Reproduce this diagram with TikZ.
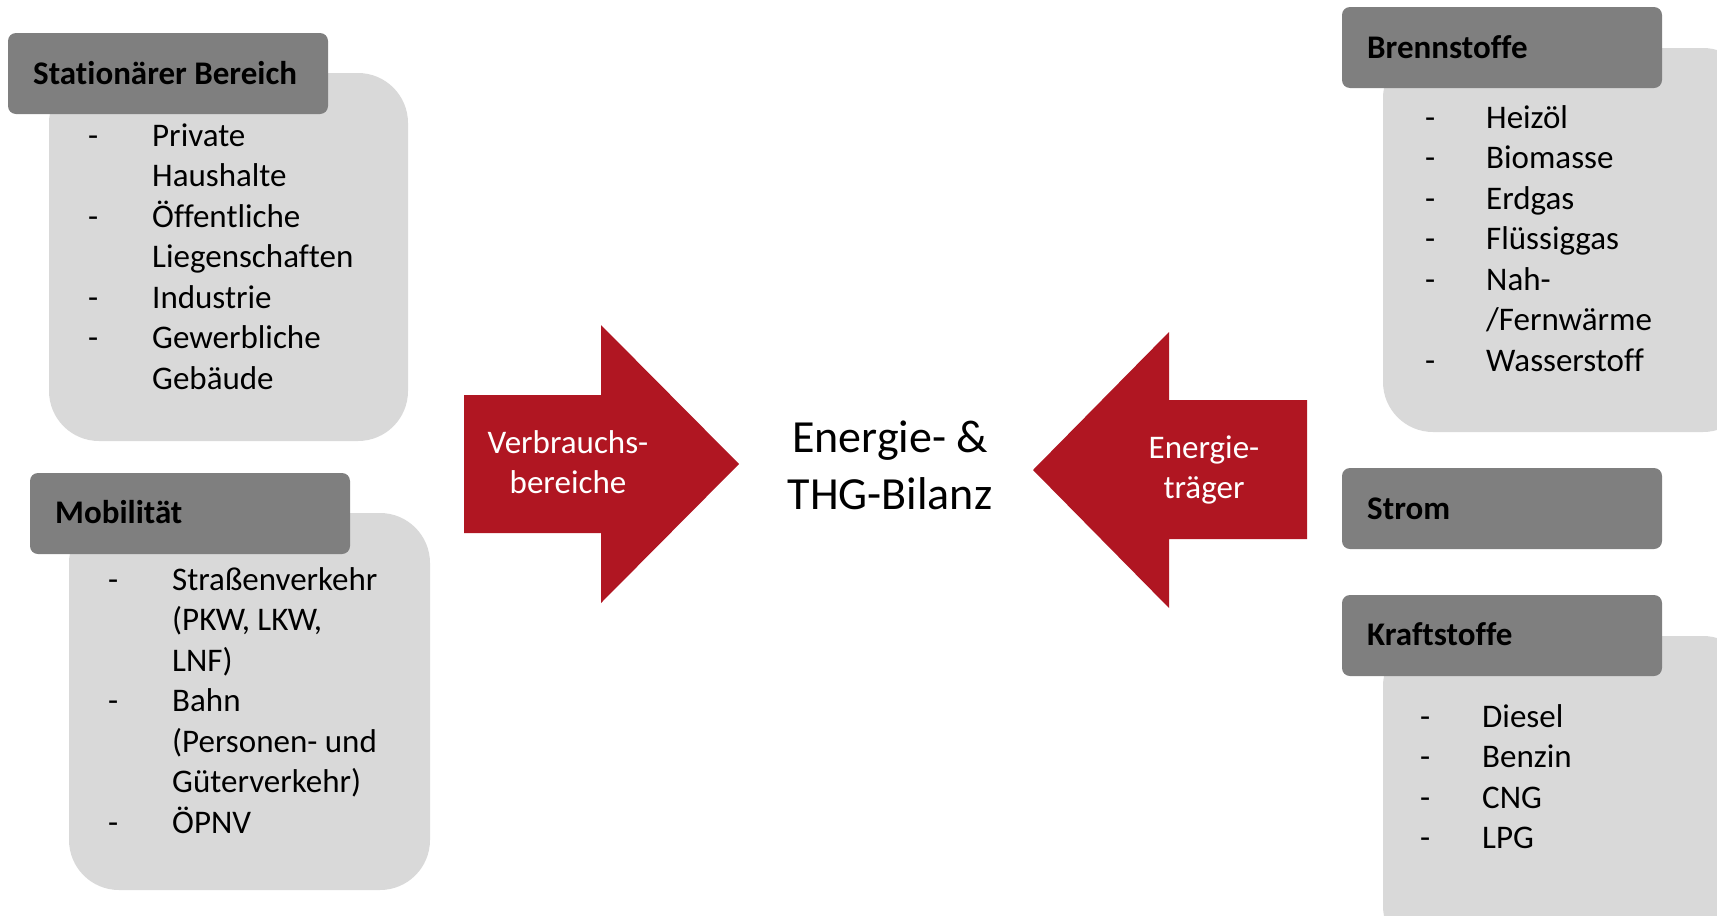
\documentclass[tikz,border=0pt]{standalone}
\usepackage{fontspec}
\setmainfont{Carlito}[Ligatures={NoCommon,TeX}]
\definecolor{hdrgray}{HTML}{7F7F7F}
\definecolor{litegray}{HTML}{D9D9D9}
\definecolor{arrred}{HTML}{B01622}
\begin{document}
\begin{tikzpicture}[x=1pt,y=-1pt,
  lightbox/.style={fill=litegray, rounded corners=50pt, inner sep=0pt, outer sep=0pt, anchor=north west},
  hdrbox/.style={fill=hdrgray, rounded corners=8pt, inner sep=0pt, outer sep=0pt, anchor=north west, minimum width=320pt, minimum height=81pt},
  hdrtext/.style={anchor=base west, inner sep=0pt, font=\fontsize{33}{40.5}\selectfont\bfseries},
  listtext/.style={anchor=base west, inner sep=0pt, font=\fontsize{33}{40.5}\selectfont},
  arrowshape/.style={fill=arrred, draw=none},
  arrowtext/.style={anchor=base, inner sep=0pt, text=white, font=\fontsize{33}{40}\selectfont}
]
\useasboundingbox (0,0) rectangle (1717,916);
\clip (0,0) rectangle (1717,916);

% light boxes
\node[lightbox, minimum width=359pt, minimum height=368pt] (box1) at (49,73) {};
\node[lightbox, minimum width=361pt, minimum height=377pt] (box2) at (69,513) {};
\node[lightbox, minimum width=370pt, minimum height=384pt] (box3) at (1383,48) {};
\node[lightbox, minimum width=370pt, minimum height=320pt] (box4) at (1383,636) {};

% headers
\node[hdrbox] (h1) at (8,33) {};
\node[hdrbox] (h2) at (30,473) {};
\node[hdrbox] (h3) at (1342,7) {};
\node[hdrbox] (h4) at (1342,468) {};
\node[hdrbox] (h5) at (1342,595) {};

\node[hdrtext] (t1) at (33,84) {Stationärer Bereich};
\node[hdrtext] (t2) at (55,523) {Mobilität};
\node[hdrtext] (t3) at (1367,58) {Brennstoffe};
\node[hdrtext] (t4) at (1367,519) {Strom};
\node[hdrtext] (t5) at (1367,645) {Kraftstoffe};

% lists
\node[listtext] (l1) at (88,146) {\begin{tabular}[t]{@{}p{64pt}@{}l@{}}
- & Private\\
  & Haushalte\\
- & Öffentliche\\
  & Liegenschaften\\
- & Industrie\\
- & Gewerbliche\\
  & Gebäude
\end{tabular}};
\node[listtext] (l2) at (108,590) {\begin{tabular}[t]{@{}p{64pt}@{}l@{}}
- & Straßenverkehr\\
  & (PKW, LKW,\\
  & LNF)\\
- & Bahn\\
  & (Personen- und\\
  & Güterverkehr)\\
- & ÖPNV
\end{tabular}};
\node[listtext] (l3) at (1425,128) {\begin{tabular}[t]{@{}p{61pt}@{}l@{}}
- & Heizöl\\
- & Biomasse\\
- & Erdgas\\
- & Flüssiggas\\
- & Nah-\\
  & /Fernwärme\\
- & Wasserstoff
\end{tabular}};
\node[listtext] (l4) at (1420,727) {\begin{tabular}[t]{@{}p{62pt}@{}l@{}}
- & Diesel\\
- & Benzin\\
- & CNG\\
- & LPG
\end{tabular}};

% block arrows
\fill[arrowshape] (464,395) -- (601,395) -- (601,325) -- (739,464) -- (601,603) -- (601,533) -- (464,533) -- cycle;
\fill[arrowshape] (1307,400) -- (1169,400) -- (1169,332) -- (1033,470) -- (1169,608) -- (1169,539) -- (1307,539) -- cycle;

\node[arrowtext] (a1) at (568,453) {\begin{tabular}[t]{@{}c@{}}Verbrauchs-\\bereiche\end{tabular}};
\node[arrowtext] (a2) at (1204,458) {\begin{tabular}[t]{@{}c@{}}Energie-\\träger\end{tabular}};

\node[anchor=base, inner sep=0pt, font=\fontsize{46}{57}\selectfont] (center) at (890,452) {\begin{tabular}[t]{@{}c@{}}Energie- \&\\THG-Bilanz\end{tabular}};
\end{tikzpicture}
\end{document}
